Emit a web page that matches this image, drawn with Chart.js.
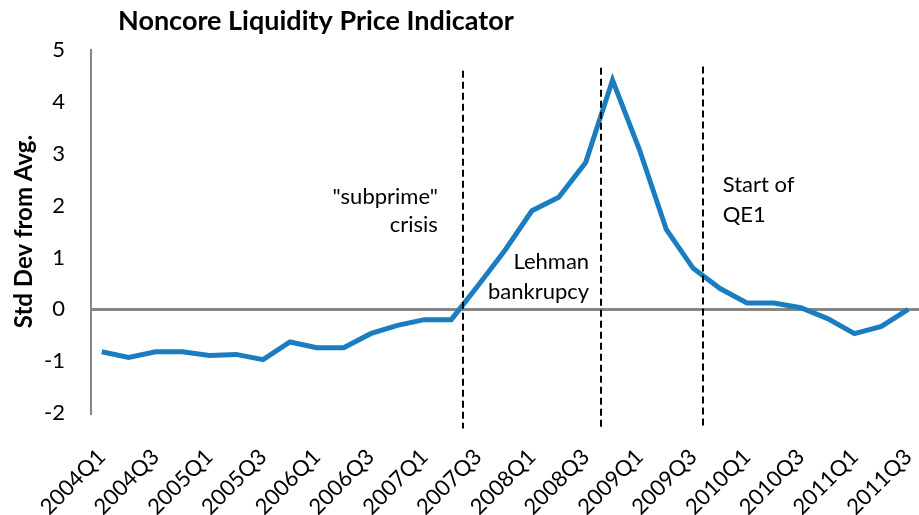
<!DOCTYPE html>
<html>
<head>
<meta charset="utf-8">
<script src="https://cdn.jsdelivr.net/npm/chart.js@4"></script>
<style>
  body { margin: 0; background: #fff; }
  #wrap { width: 919px; height: 515px; }
</style>
</head>
<body>
<div id="wrap"><canvas id="chart"></canvas></div>
<script>
'use strict';

// quarters, 2004Q1 .. 2011Q3
var quarters = [
  '2004Q1','2004Q2','2004Q3','2004Q4',
  '2005Q1','2005Q2','2005Q3','2005Q4',
  '2006Q1','2006Q2','2006Q3','2006Q4',
  '2007Q1','2007Q2','2007Q3','2007Q4',
  '2008Q1','2008Q2','2008Q3','2008Q4',
  '2009Q1','2009Q2','2009Q3','2009Q4',
  '2010Q1','2010Q2','2010Q3','2010Q4',
  '2011Q1','2011Q2','2011Q3'
];

// std dev from average
var stdDev = [
  -0.82, -0.93, -0.82, -0.82,
  -0.89, -0.87, -0.97, -0.63,
  -0.74, -0.74, -0.47, -0.31,
  -0.20, -0.20, 0.46, 1.14,
  1.90, 2.16, 2.83, 4.42,
  3.08, 1.54, 0.79, 0.40,
  0.12, 0.12, 0.03, -0.18,
  -0.47, -0.33, 0.00
];

var yTicks = [-2, -1, 0, 1, 2, 3, 4, 5];

// event markers (position in quarter index, top of dashed line in std dev)
var eventAt = [13.45, 18.57, 22.38];
var eventTop = [4.60, 4.66, 4.68];

// notes next to the events
var notes = [
  { text: '"subprime"', x: 12.5, y: 2.17, align: 'right' },
  { text: 'crisis', x: 12.5, y: 1.63, align: 'right' },
  { text: 'Lehman', x: 18.13, y: 0.92, align: 'right' },
  { text: 'bankrupcy', x: 18.13, y: 0.34, align: 'right' },
  { text: 'Start of', x: 23.1, y: 2.40, align: 'left' },
  { text: 'QE1', x: 23.1, y: 1.82, align: 'left' }
];

var titleText = 'Noncore Liquidity Price Indicator';
var FONT = 'Lato, "Open Sans", sans-serif';

var points = stdDev.map(function(v, i) { return { x: i, y: v }; });

var extras = {
  id: 'extras',
  afterDatasetsDraw: function(chart) {
    var ctx = chart.ctx;
    var xs = chart.scales.x;
    var ys = chart.scales.y;
    ctx.save();
    // dashed event lines
    ctx.strokeStyle = '#000';
    ctx.lineWidth = 2;
    ctx.setLineDash([7, 4]);
    for (var i = 0; i < eventAt.length; i++) {
      var px = Math.round(xs.getPixelForValue(eventAt[i]));
      ctx.beginPath();
      ctx.moveTo(px, ys.getPixelForValue(eventTop[i]));
      ctx.lineTo(px, ys.getPixelForValue(-2.3));
      ctx.stroke();
    }
    ctx.setLineDash([]);
    // notes
    ctx.fillStyle = '#000';
    ctx.font = '22px ' + FONT;
    ctx.textBaseline = 'middle';
    notes.forEach(function(n) {
      ctx.textAlign = n.align;
      ctx.fillText(n.text, xs.getPixelForValue(n.x), ys.getPixelForValue(n.y));
    });
    // title
    ctx.font = 'bold 27px ' + FONT;
    ctx.textAlign = 'left';
    ctx.fillText(titleText, chart.chartArea.left + 27, 21);
    ctx.restore();
  }
};

var ctx = document.getElementById('chart').getContext('2d');
var chart = new Chart(ctx, {
  type: 'line',
  data: {
    datasets: [{
      label: 'Noncore liquidity',
      data: points,
      borderColor: '#1B7DC0',
      borderWidth: 5,
      pointRadius: 0,
      tension: 0,
      fill: false
    }]
  },
  options: {
    responsive: true,
    maintainAspectRatio: false,
    animation: false,
    layout: { padding: { top: 50, left: 8, right: 0, bottom: 0 } },
    plugins: {
      legend: { display: false },
      tooltip: { enabled: false }
    },
    scales: {
      x: {
        type: 'linear',
        min: -0.4,
        max: 30.4,
        afterBuildTicks: function(scale) {
          scale.ticks = quarters.map(function(q, i) { return { value: i }; })
            .filter(function(t) { return t.value % 2 === 0; });
        },
        afterFit: function(scale) {
          scale.paddingLeft = 0;
          scale.paddingRight = 0;
          scale.height = 102;
        },
        ticks: {
          autoSkip: false,
          maxRotation: 45,
          minRotation: 45,
          padding: 31,
          color: '#000',
          font: { family: FONT, size: 22 },
          callback: function(v) { return quarters[v]; }
        },
        grid: { display: false, drawTicks: false },
        border: { display: false }
      },
      y: {
        min: -2,
        max: 5,
        afterBuildTicks: function(scale) {
          scale.ticks = yTicks.map(function(v) { return { value: v }; });
        },
        afterFit: function(scale) {
          scale.width = 83;
        },
        ticks: {
          padding: 26,
          color: '#000',
          font: { family: FONT, size: 22 }
        },
        grid: {
          drawTicks: false,
          color: function(c) { return c.tick && c.tick.value === 0 ? '#868686' : 'rgba(0,0,0,0)'; },
          lineWidth: 3
        },
        border: { display: true, color: '#868686', width: 2 },
        title: {
          display: true,
          text: 'Std Dev from Avg.',
          color: '#000',
          font: { family: FONT, size: 24, weight: 'bold' },
          padding: { top: 2, bottom: 10 }
        }
      }
    }
  },
  plugins: [extras]
});
</script>
</body>
</html>
